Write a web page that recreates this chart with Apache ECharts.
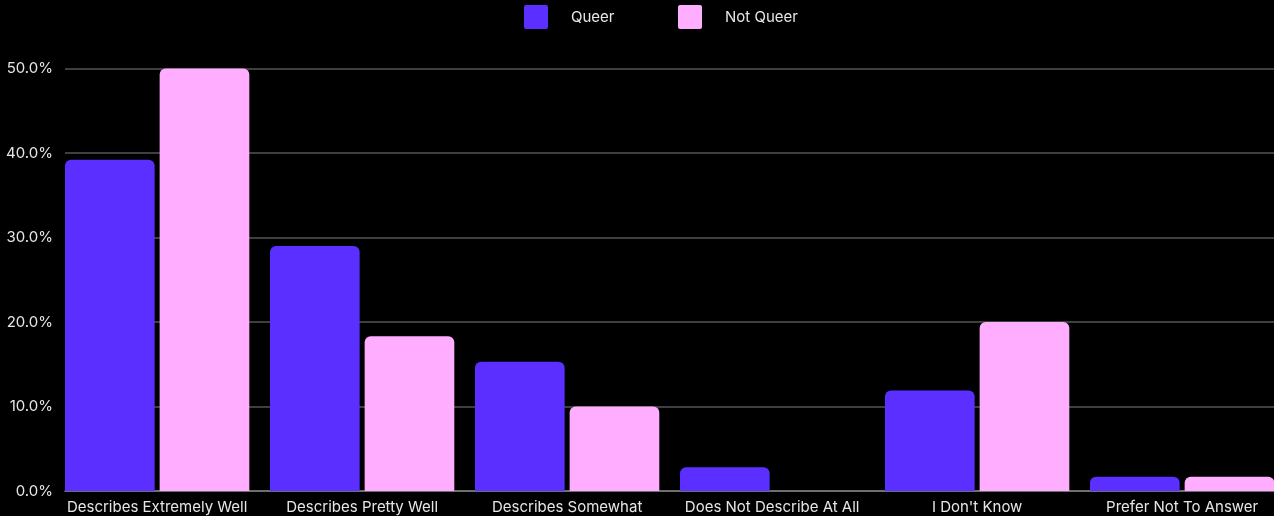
<!DOCTYPE html>
<html>
<head>
<meta charset="utf-8">
<script src="https://cdn.jsdelivr.net/npm/echarts@6/dist/echarts.min.js"></script>
<style>
html,body{margin:0;padding:0;background:#000;}
#chart{width:1274px;height:516px;}
</style>
</head>
<body>
<div id="chart"></div>
<script>
var categories = ['Describes Extremely Well', 'Describes Pretty Well', 'Describes Somewhat', 'Does Not Describe At All', "I Don't Know", 'Prefer Not To Answer'];
var queer = [39.2, 29.0, 15.3, 2.8, 11.9, 1.7];
var notQueer = [50.0, 18.3, 10.0, 0, 20.0, 1.7];
var yTicks = { min: 0, max: 50, interval: 10 };

var FONT = 'Inter';
var squareIcon = 'path://M2,0 H22 Q24,0 24,2 V22 Q24,24 22,24 H2 Q0,24 0,22 V2 Q0,0 2,0 Z';

var chart = echarts.init(document.getElementById('chart'), null, { renderer: 'canvas' });
chart.setOption({
  backgroundColor: '#000000',
  animation: false,
  textStyle: { fontFamily: FONT },
  legend: [
    { data: ['Queer'], left: 524, top: 5, padding: 0, itemWidth: 24, itemHeight: 24, icon: squareIcon,
      textStyle: { color: '#e6e6e6', fontSize: 15, fontFamily: FONT, padding: [0, 0, 0, 18] } },
    { data: ['Not Queer'], left: 678, top: 5, padding: 0, itemWidth: 24, itemHeight: 24, icon: squareIcon,
      textStyle: { color: '#e6e6e6', fontSize: 15, fontFamily: FONT, padding: [0, 0, 0, 18] } }
  ],
  grid: [
    { left: 65, right: 0, top: 68.5, bottom: 25, containLabel: false, outerBoundsMode: 'none' },
    { left: 54.65, width: 1230, top: 68.5, bottom: 25, containLabel: false, outerBoundsMode: 'none' }
  ],
  xAxis: [
    { gridIndex: 0, type: 'category', data: categories,
      axisLine: { show: true, lineStyle: { color: '#808080', width: 1.5 } },
      axisTick: { show: false }, axisLabel: { show: false }, splitLine: { show: false } },
    { gridIndex: 1, type: 'category', data: categories,
      axisLine: { show: false }, axisTick: { show: false },
      axisLabel: { color: '#e6e6e6', fontSize: 15, fontFamily: FONT, margin: 9, interval: 0 } }
  ],
  yAxis: [
    { gridIndex: 0, type: 'value', min: yTicks.min, max: yTicks.max, interval: yTicks.interval,
      axisLine: { show: false }, axisTick: { show: false },
      axisLabel: { color: '#e6e6e6', fontSize: 15, fontFamily: FONT, margin: 12,
        formatter: function (v) { return v.toFixed(1) + '%'; } },
      splitLine: { show: true, lineStyle: { color: '#555555', width: 1.5 } } },
    { gridIndex: 1, type: 'value', min: yTicks.min, max: yTicks.max, interval: yTicks.interval,
      show: false, splitLine: { show: false } }
  ],
  series: [
    { name: 'Queer', type: 'bar', xAxisIndex: 1, yAxisIndex: 1, data: queer,
      barGap: '5.6%', barCategoryGap: '10.1%',
      itemStyle: { color: '#5a2fff', borderRadius: [6, 6, 0, 0] } },
    { name: 'Not Queer', type: 'bar', xAxisIndex: 1, yAxisIndex: 1, data: notQueer,
      barGap: '5.6%', barCategoryGap: '10.1%',
      itemStyle: { color: '#ffadff', borderRadius: [6, 6, 0, 0] } }
  ]
});
</script>
</body>
</html>
